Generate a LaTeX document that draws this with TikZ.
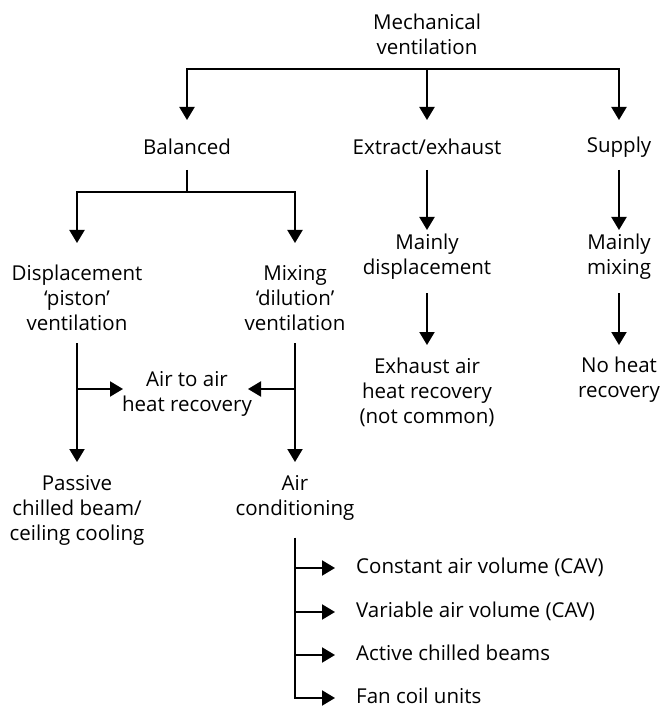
\documentclass[tikz,border=0pt]{standalone}
\usepackage{fontspec}
\setmainfont{Open Sans}
\usetikzlibrary{arrows.meta,calc}
\begin{document}
\begin{tikzpicture}[x=1pt,y=-1pt,
  lbl/.style={align=center, font=\fontsize{20.5}{25}\selectfont, inner sep=0pt},
  item/.style={anchor=west, font=\fontsize{20.5}{25}\selectfont, inner sep=0pt, text height=14pt, text depth=4pt},
  conn/.style={line width=2pt, line join=miter},
  arr/.style={conn, -{Triangle[width=15pt,length=13pt]}},
  arrtwo/.style={conn, {Triangle[width=15pt,length=13pt]}-{Triangle[width=15pt,length=13pt]}}]
\useasboundingbox (0,0) rectangle (661,708);

\node[lbl] (mech) at (427,34) {Mechanical\\ventilation};
\node[lbl] (bal) at (187,147) {Balanced};
\node[lbl] (ext) at (427,147) {Extract/exhaust};
\node[lbl] (sup) at (619,147) {Supply};
\node[lbl] (disp) at (77,298) {Displacement\\‘piston’\\ventilation};
\node[lbl] (mix) at (295,298) {Mixing\\‘dilution’\\ventilation};
\node[lbl] (maind) at (427,257) {Mainly\\displacement};
\node[lbl] (mainm) at (619,257) {Mainly\\mixing};
\node[lbl] (exh) at (427,392) {Exhaust air\\heat recovery\\(not common)};
\node[lbl] (noh) at (619,379.5) {No heat\\recovery};
\node[lbl] (a2a) at (187,393.5) {Air to air\\heat recovery};
\node[lbl] (pas) at (77,510) {Passive\\chilled beam/\\ceiling cooling};
\node[lbl] (ac) at (295,497.5) {Air\\conditioning};
\node[item] (cav) at (356,568) {Constant air volume (CAV)};
\node[item] (vav) at (356,612) {Variable air volume (CAV)};
\node[item] (acb) at (356,655) {Active chilled beams};
\node[item] (fcu) at (356,698) {Fan coil units};

% top level
\coordinate (mbar) at (427,69);
\draw[arrtwo] ($(bal)+(0,-27)$) |- (mbar) -| ($(sup)+(0,-27)$);
\draw[arr] (mbar) -- ($(ext)+(0,-27)$);

% balanced
\coordinate (bbar) at (187,192);
\draw[conn] ($(bal)+(0,23)$) -- (bbar);
\draw[arrtwo] ($(disp)+(0,-55)$) |- (bbar) -| ($(mix)+(0,-55)$);

% extract and supply
\draw[arr] ($(ext)+(0,23)$) -- ($(maind)+(0,-27)$);
\draw[arr] ($(sup)+(0,23)$) -- ($(mainm)+(0,-27)$);
\draw[arr] ($(maind)+(0,36)$) -- ($(exh)+(0,-47)$);
\draw[arr] ($(mainm)+(0,36)$) -- ($(noh)+(0,-34.5)$);

% displacement / mixing
\draw[arr] ($(disp)+(0,45)$) -- ($(pas)+(0,-48)$);
\draw[arr] ($(mix)+(0,45)$) -- ($(ac)+(0,-35.5)$);
\draw[arr] ($(a2a)+(-110,-4.5)$) -- ($(a2a)+(-64,-4.5)$);
\draw[arr] ($(a2a)+(108,-4.5)$) -- ($(a2a)+(61,-4.5)$);

% air conditioning
\draw[arr] ($(ac)+(0,40)$) |- ($(fcu.west)+(-21,0)$);
\draw[arr] (ac |- cav.west) -- ($(cav.west)+(-21,0)$);
\draw[arr] (ac |- vav.west) -- ($(vav.west)+(-21,0)$);
\draw[arr] (ac |- acb.west) -- ($(acb.west)+(-21,0)$);
\end{tikzpicture}
\end{document}
